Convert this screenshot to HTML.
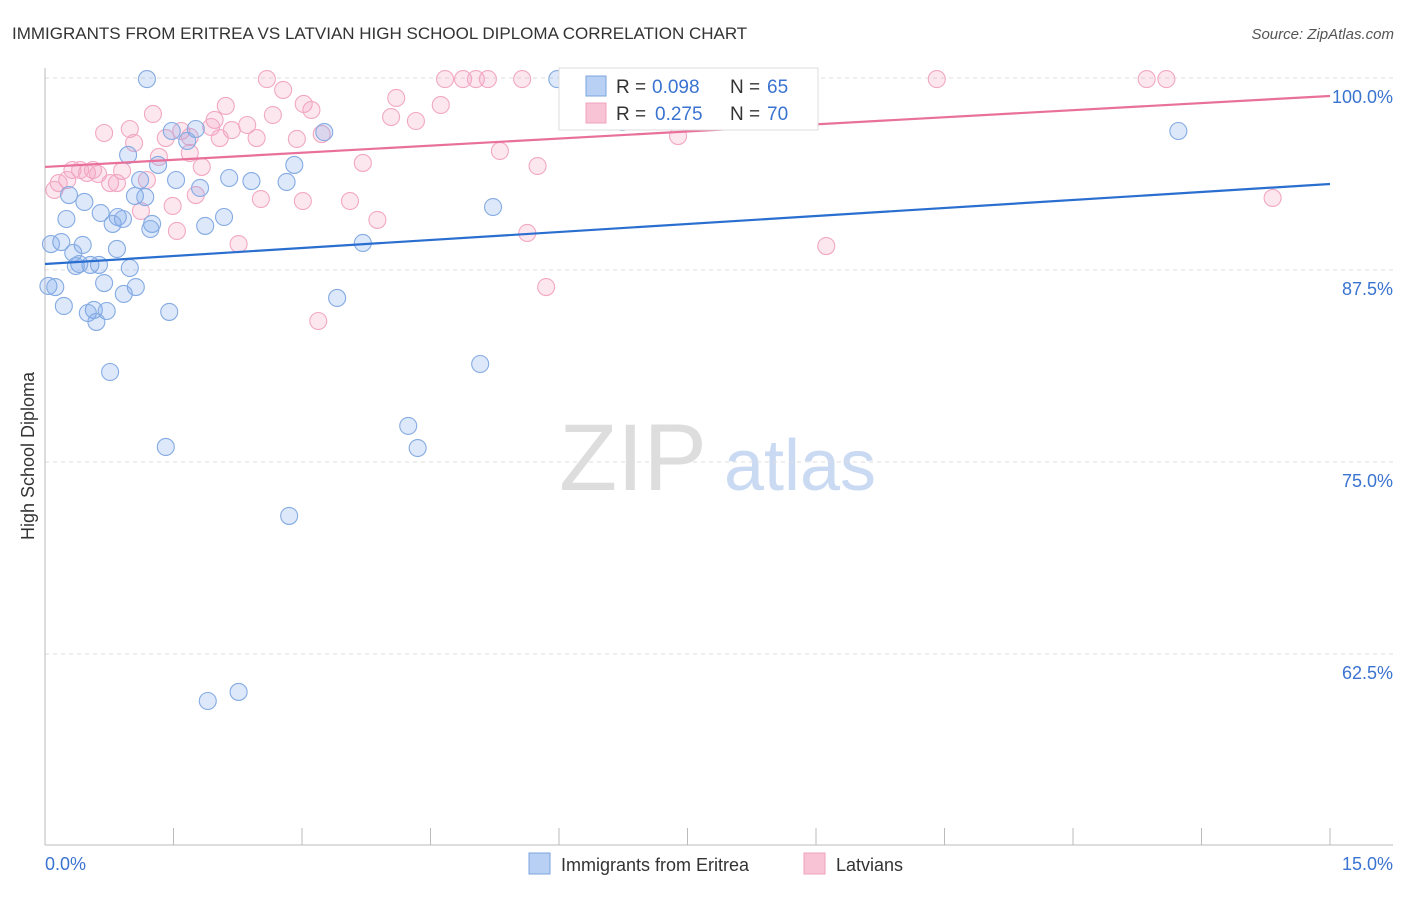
<!DOCTYPE html>
<html><head><meta charset="utf-8"><style>
body{margin:0;background:#fff;font-family:"Liberation Sans",sans-serif}
svg text{font-family:"Liberation Sans",sans-serif}
</style></head><body>
<svg id="c" width="1406" height="892" xmlns="http://www.w3.org/2000/svg">
<text x="12" y="39" font-size="17" fill="#333">IMMIGRANTS FROM ERITREA VS LATVIAN HIGH SCHOOL DIPLOMA CORRELATION CHART</text>
<text x="1394" y="39" font-size="15" fill="#555" font-style="italic" text-anchor="end">Source: ZipAtlas.com</text>
<text x="34" y="456" font-size="18" fill="#333" text-anchor="middle" transform="rotate(-90 34 456)">High School Diploma</text>
<g><text x="633" y="490" font-size="95" fill="#ddd" font-family="Liberation Serif" text-anchor="middle">ZIP</text><text x="800" y="490" font-size="72" fill="#c9daf2" text-anchor="middle">atlas</text></g>
<g id="grid"></g><g id="axes"></g><g id="pts"></g><g id="lines"></g>
<g>
<rect x="559" y="68" width="259" height="62" fill="#fff" stroke="#ddd"/>
<rect x="586" y="76" width="20" height="20" fill="#b7d0f3" stroke="#7ea6e0"/>
<text x="616" y="93" font-size="19" fill="#333">R =</text><text x="652" y="93" font-size="19" fill="#3a73d0">0.098</text>
<text x="730" y="93" font-size="19" fill="#333">N =</text><text x="767" y="93" font-size="19" fill="#3a73d0">65</text>
<rect x="586" y="103" width="20" height="20" fill="#f8c3d4" stroke="#f0a0bc"/>
<text x="616" y="120" font-size="19" fill="#333">R =</text><text x="655" y="120" font-size="19" fill="#3a73d0">0.275</text>
<text x="730" y="120" font-size="19" fill="#333">N =</text><text x="767" y="120" font-size="19" fill="#3a73d0">70</text>
</g>
<g>
<rect x="529" y="853" width="21" height="21" fill="#b7d0f3" stroke="#7ea6e0"/>
<text x="561" y="871" font-size="18" fill="#333">Immigrants from Eritrea</text>
<rect x="804" y="853" width="21" height="21" fill="#f8c3d4" stroke="#f0a0bc"/>
<text x="836" y="871" font-size="18" fill="#333">Latvians</text>
</g>
</svg>
<script>
const xTicks=[0,1.5,3,4.5,6,7.5,9,10.5,12,13.5,15];
const yTicks=[100,87.5,75,62.5];
const yTickLabels=["100.0%","87.5%","75.0%","62.5%"];
const blueX=[1.19,5.98,1.48,1.76,1.66,3.26,0.97,1.32,2.91,1.11,1.53,2.15,2.41,2.82,1.81,1.05,1.17,0.28,0.46,0.65,0.85,0.91,0.79,1.25,1.23,1.87,2.09,5.23,0.25,0.19,0.07,0.44,0.84,3.71,0.33,0.40,0.36,0.53,0.63,0.99,0.04,0.12,0.69,1.06,0.92,3.41,0.22,0.57,0.72,0.50,0.60,1.45,0.76,5.08,4.24,4.35,1.41,2.85,2.26,1.90,13.23,6.74];
const blueY=[99.93,99.93,96.55,96.68,95.90,96.48,94.99,94.34,94.34,93.36,93.36,93.49,93.29,93.23,92.84,92.32,92.25,92.38,91.93,91.21,90.95,90.82,90.50,90.50,90.17,90.37,90.95,91.60,90.82,89.32,89.19,89.13,88.87,89.26,88.61,87.89,87.76,87.83,87.83,87.63,86.46,86.39,86.65,86.39,85.94,85.68,85.16,84.90,84.83,84.70,84.12,84.77,80.86,81.38,77.35,75.91,75.98,71.49,60.03,59.44,96.55,97.14];
const pinkX=[2.59,4.67,4.88,5.03,5.17,5.57,7.97,10.41,12.86,13.09,2.78,4.10,3.02,3.11,2.11,1.26,2.66,4.04,4.33,4.62,1.98,2.36,2.18,0.99,0.69,1.59,1.94,1.69,2.47,2.94,2.04,1.41,1.04,3.23,5.31,1.69,1.33,3.71,5.75,7.39,1.83,0.32,0.41,0.56,0.49,0.62,0.90,0.26,0.76,0.84,1.19,0.16,0.11,1.76,2.52,3.01,3.56,1.49,1.12,3.88,1.54,5.63,2.26,9.12,14.33,5.85,3.19,6.10];
const pinkY=[99.93,99.93,99.93,99.93,99.93,99.93,99.93,99.93,99.93,99.93,99.22,98.70,98.31,97.92,98.18,97.66,97.59,97.46,97.20,98.24,97.27,96.94,96.61,96.68,96.42,96.55,96.81,96.16,96.09,96.03,96.09,96.09,95.77,96.35,95.25,95.12,94.86,94.47,94.27,96.22,94.21,94.01,94.01,94.01,93.82,93.75,93.95,93.36,93.16,93.16,93.36,93.16,92.71,92.38,92.12,91.99,91.99,91.67,91.34,90.76,90.04,89.91,89.19,89.06,92.19,86.39,84.18,98.24];
const blueTrend=[87.89,93.1];
const pinkTrend=[94.21,98.83];
const NS="http://www.w3.org/2000/svg";
const X=v=>45+v/15*1285;
const Y=v=>78+(100-v)/12.5*192;
function mk(tag,attrs,parent){const e=document.createElementNS(NS,tag);for(const k in attrs)e.setAttribute(k,attrs[k]);document.getElementById(parent).appendChild(e);return e;}
yTicks.forEach((t,i)=>{
 const l=mk('line',{x1:45,x2:1393,y1:Y(t),y2:Y(t),stroke:'#ddd','stroke-dasharray':'4,4'},'grid');
 
 
 const tx=mk('text',{x:1393,y:Y(t)+25,'font-size':18,fill:'#3a73d0','text-anchor':'end'},'grid');
 tx.textContent=yTickLabels[i];
 
 
});
mk('line',{x1:45,x2:45,y1:68,y2:845,stroke:'#bbb'},'axes');
mk('line',{x1:45,x2:1393,y1:845,y2:845,stroke:'#bbb'},'axes');
xTicks.forEach(t=>{const l=mk('line',{x1:X(t),x2:X(t),y1:828,y2:845,stroke:'#bbb'},'axes');
 
 });
let a=mk('text',{x:45,y:870,'font-size':18,fill:'#3a73d0'},'axes');a.textContent=xTicks[0].toFixed(1)+'%';


a=mk('text',{x:1393,y:870,'font-size':18,fill:'#3a73d0','text-anchor':'end'},'axes');a.textContent=xTicks[10].toFixed(1)+'%';


pinkX.forEach((x,i)=>{const c=mk('circle',{cx:X(x),cy:Y(pinkY[i]),r:8.5,fill:'rgba(244,160,190,0.25)',stroke:'#f2a8c2','stroke-width':1.1},'pts');
 
 });
blueX.forEach((x,i)=>{const c=mk('circle',{cx:X(x),cy:Y(blueY[i]),r:8.5,fill:'rgba(120,165,235,0.25)',stroke:'#85abe2','stroke-width':1.1},'pts');
 
 });
let tl=mk('line',{x1:X(0),x2:X(15),y1:Y(blueTrend[0]),y2:Y(blueTrend[1]),stroke:'#2a6fd0','stroke-width':2.2},'lines');


tl=mk('line',{x1:X(0),x2:X(15),y1:Y(pinkTrend[0]),y2:Y(pinkTrend[1]),stroke:'#e8709a','stroke-width':2.2},'lines');


</script>
</body></html>
